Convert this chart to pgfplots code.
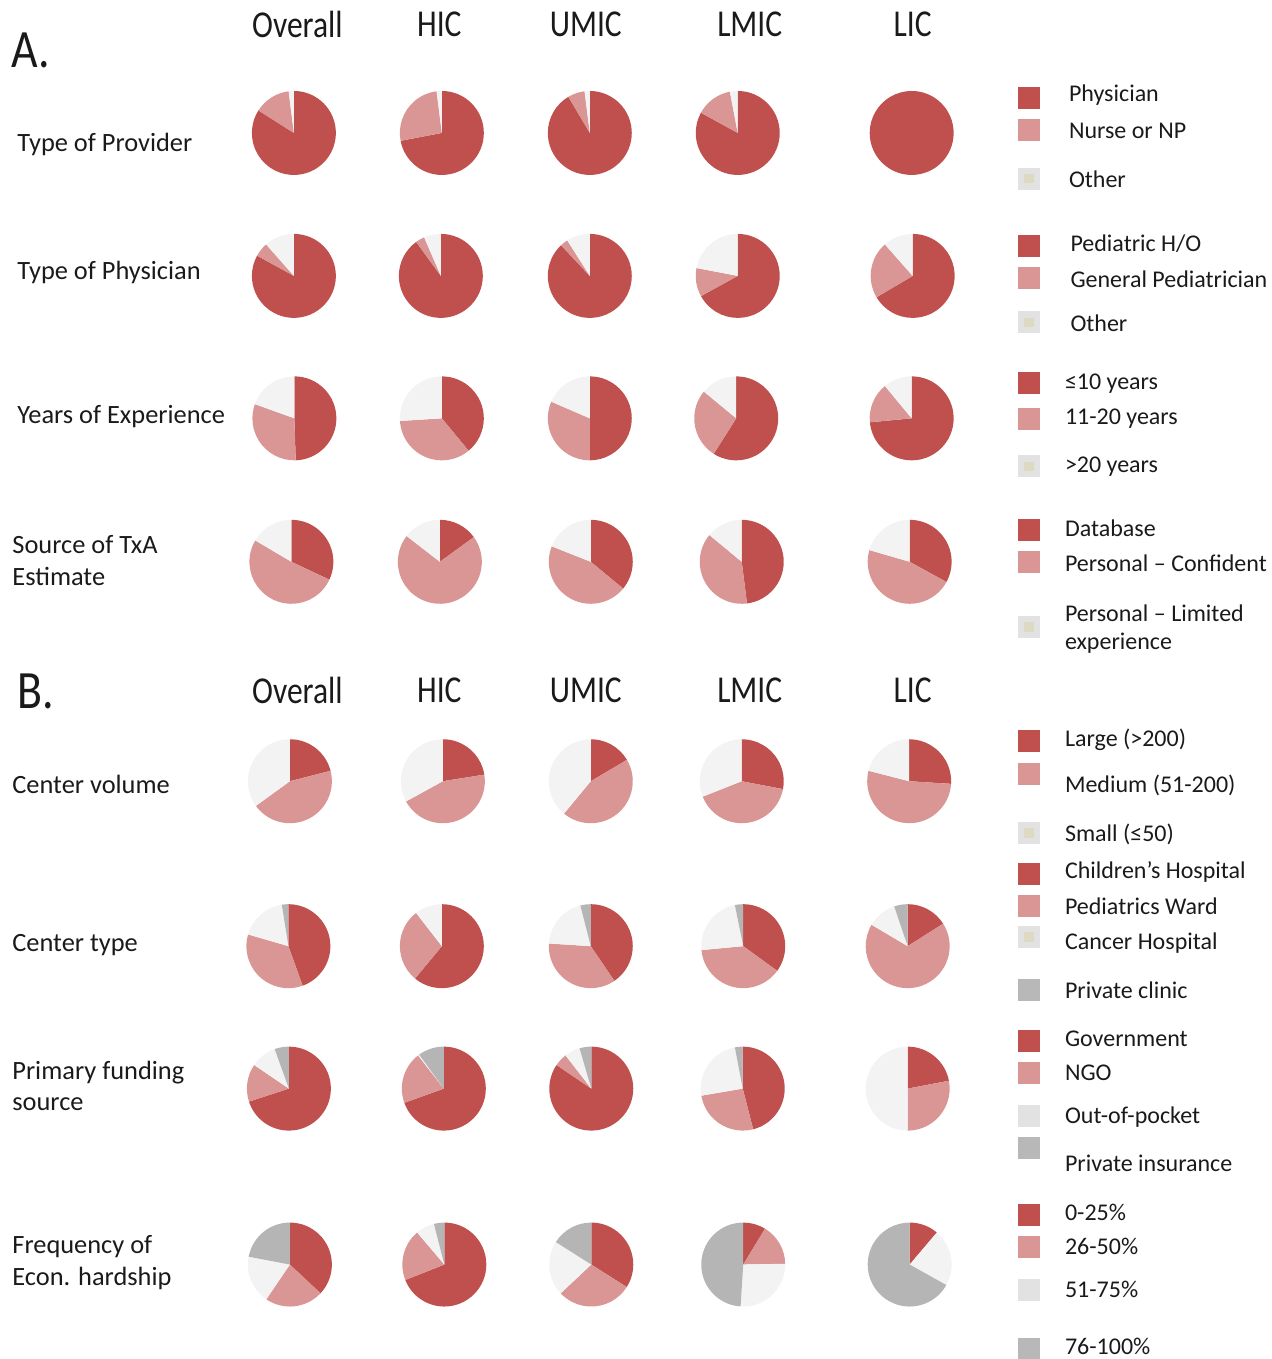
\documentclass[border=0pt]{standalone}
\usepackage{graphicx}
\usepackage{pgfplots}
\pgfplotsset{compat=1.18}
\usepackage{pgfplotstable}
\usepackage{fontspec}
\setmainfont{Carlito}
\definecolor{pc1}{HTML}{C0504D}
\definecolor{pc2}{HTML}{D99694}
\definecolor{pc3}{HTML}{F3F3F3}
\definecolor{pc4}{HTML}{B5B5B5}
\definecolor{lgOther}{HTML}{E2E2E2}
\definecolor{lgInner}{HTML}{DDD9C3}
\definecolor{lgGrey}{HTML}{B8B8B8}
\definecolor{txt}{HTML}{1A1A1A}
\pgfdeclareplotmark{nothing}{}

% columns: x y (pie centre, pixels), p0 p1 (cumulative percent, clockwise from 12 o'clock), c (category)
\pgfplotstableread{
x y p0 p1 c
294 133 0 84 1
294 133 84 98 2
294 133 98 100 3
442 133 0 72 1
442 133 72 98 2
442 133 98 100 3
590 133 0 91.5 1
590 133 91.5 98 2
590 133 98 100 3
738 133 0 83 1
738 133 83 97 2
738 133 97 100 3
912 133 0 100 1
}\rowProvider
\pgfplotstableread{
x y p0 p1 c
294 276 0 83 1
294 276 83 88.5 2
294 276 88.5 100 3
441 276 0 90 1
441 276 90 93.5 2
441 276 93.5 100 3
590 276 0 88 1
590 276 88 91 2
590 276 91 100 3
738 276 0 67 1
738 276 67 78 2
738 276 78 100 3
913 276 0 66.5 1
913 276 66.5 88.5 2
913 276 88.5 100 3
}\rowPhysician
\pgfplotstableread{
x y p0 p1 c
294.5 418.5 0 49.5 1
294.5 418.5 49.5 80.5 2
294.5 418.5 80.5 100 3
442 418.5 0 39 1
442 418.5 39 74 2
442 418.5 74 100 3
590 418.5 0 50 1
590 418.5 50 81.5 2
590 418.5 81.5 100 3
736.5 418.5 0 59 1
736.5 418.5 59 86 2
736.5 418.5 86 100 3
912 418.5 0 73.5 1
912 418.5 73.5 89 2
912 418.5 89 100 3
}\rowYears
\pgfplotstableread{
x y p0 p1 c
291.5 562 0 32 1
291.5 562 32 83.5 2
291.5 562 83.5 100 3
440 562 0 15 1
440 562 15 85.5 2
440 562 85.5 100 3
591 562 0 36 1
591 562 36 81 2
591 562 81 100 3
742 562 0 48 1
742 562 48 86 2
742 562 86 100 3
910 562 0 33 1
910 562 33 79.5 2
910 562 79.5 100 3
}\rowSource
\pgfplotstableread{
x y p0 p1 c
290 781.5 0 21 1
290 781.5 21 65 2
290 781.5 65 100 3
443 781.5 0 22.5 1
443 781.5 22.5 67 2
443 781.5 67 100 3
591 781.5 0 16.5 1
591 781.5 16.5 61 2
591 781.5 61 100 3
742 781.5 0 28 1
742 781.5 28 69 2
742 781.5 69 100 3
909.5 781.5 0 26 1
909.5 781.5 26 79 2
909.5 781.5 79 100 3
}\rowVolume
\pgfplotstableread{
x y p0 p1 c
288.5 946.5 0 44.5 1
288.5 946.5 44.5 79.5 2
288.5 946.5 79.5 97.5 3
288.5 946.5 97.5 100 4
442 946.5 0 61 1
442 946.5 61 89.5 2
442 946.5 89.5 100 3
591 946.5 0 40.5 1
591 946.5 40.5 76 2
591 946.5 76 96 3
591 946.5 96 100 4
743.5 946.5 0 35 1
743.5 946.5 35 73.5 2
743.5 946.5 73.5 96.8 3
743.5 946.5 96.8 100 4
908 946.5 0 16 1
908 946.5 16 83.5 2
908 946.5 83.5 94.8 3
908 946.5 94.8 100 4
}\rowType
\pgfplotstableread{
x y p0 p1 c
289 1089 0 70 1
289 1089 70 84.5 2
289 1089 84.5 94.5 3
289 1089 94.5 100 4
444 1089 0 69.5 1
444 1089 69.5 89.5 2
444 1089 89.5 90 3
444 1089 90 100 4
591.5 1089 0 84.5 1
591.5 1089 84.5 89.5 2
591.5 1089 89.5 95.5 3
591.5 1089 95.5 100 4
743 1089 0 46 1
743 1089 46 72.3 2
743 1089 72.3 97 3
743 1089 97 100 4
908 1089 0 22 1
908 1089 22 50 2
908 1089 50 100 3
}\rowFunding
\pgfplotstableread{
x y p0 p1 c
290 1265 0 37 1
290 1265 37 59.5 2
290 1265 59.5 78 3
290 1265 78 100 4
444.5 1265 0 69 1
444.5 1265 69 88.8 2
444.5 1265 88.8 96 3
444.5 1265 96 100 4
591.5 1265 0 34 1
591.5 1265 34 63 2
591.5 1265 63 84 3
591.5 1265 84 100 4
743.5 1265 0 8.7 1
743.5 1265 8.7 24.7 2
743.5 1265 24.7 51 3
743.5 1265 51 100 4
910 1265 0 11.2 1
910 1265 11.2 33.1 3
910 1265 33.1 100 4
}\rowHardship

\pgfplotsset{
  pie/.style={
    scatter, only marks, mark=nothing,
    visualization depends on={\thisrow{p0}\as\pa},
    visualization depends on={\thisrow{p1}\as\pb},
    visualization depends on={\thisrow{c}\as\cls},
    scatter/@pre marker code/.code={%
      \pgfmathsetmacro\aa{90-3.6*\pa}%
      \pgfmathsetmacro\ab{90-3.6*\pb}%
      \pgfmathtruncatemacro\ci{\cls}%
      \path[draw=none, fill=pc\ci] (0,0) -- (\aa:21pt) arc[start angle=\aa,end angle=\ab,radius=21pt] -- cycle;
    },
    scatter/@post marker code/.code={},
  },
  lgbox/.style={only marks, mark=square*, mark size=5.25pt, mark options={#1, draw=#1, rounded corners=0.8pt}},
  lgin/.style={only marks, mark=square*, mark size=2.2pt, mark options={lgInner, draw=lgInner}},
}

\newcommand{\hd}[1]{\scalebox{0.83}[1]{#1}}

\begin{document}
\begin{tikzpicture}
\begin{axis}[
  width=636pt, height=679.5pt, scale only axis,
  xmin=0, xmax=1272, ymin=0, ymax=1359, y dir=reverse,
  hide axis, clip=false,
]
\path (axis cs:0,0) rectangle (axis cs:1272,1359);

\addplot[pie] table[x=x,y=y] {\rowProvider};
\addplot[pie] table[x=x,y=y] {\rowPhysician};
\addplot[pie] table[x=x,y=y] {\rowYears};
\addplot[pie] table[x=x,y=y] {\rowSource};
\addplot[pie] table[x=x,y=y] {\rowVolume};
\addplot[pie] table[x=x,y=y] {\rowType};
\addplot[pie] table[x=x,y=y] {\rowFunding};
\addplot[pie] table[x=x,y=y] {\rowHardship};

% legend swatches
\addplot[lgbox=pc1] coordinates {(1029.5,98) (1029.5,245.5) (1029.5,383) (1029.5,530) (1029.5,741.5) (1029.5,874.5) (1029.5,1041.5) (1029.5,1215)};
\addplot[lgbox=pc2] coordinates {(1029.5,130) (1029.5,278) (1029.5,419) (1029.5,562.5) (1029.5,774) (1029.5,906.5) (1029.5,1073.5) (1029.5,1247)};
\addplot[lgbox=lgOther] coordinates {(1029.5,178.5) (1029.5,322.5) (1029.5,466.5) (1029.5,627) (1029.5,833) (1029.5,937.5) (1029.5,1116.5) (1029.5,1290)};
\addplot[lgin] coordinates {(1029.5,178.5) (1029.5,322.5) (1029.5,466.5) (1029.5,627) (1029.5,833) (1029.5,937.5)};
\addplot[lgbox=lgGrey] coordinates {(1029.5,990.5) (1029.5,1148) (1029.5,1349)};

% panel letters and column headers
\node[font=\fontsize{27pt}{30pt}\selectfont, text=txt] at (axis cs:31,50) {\scalebox{0.85}[1]{A.}};
\node[font=\fontsize{27pt}{30pt}\selectfont, text=txt] at (axis cs:36,692) {\scalebox{0.85}[1]{B.}};
\begin{scope}[every node/.style={text=txt, font=\fontsize{19pt}{22pt}\selectfont}]
\node at (axis cs:297.5,24) {\hd{Overall}};
\node at (axis cs:439.5,24) {\hd{HIC}};
\node at (axis cs:586,24) {\hd{UMIC}};
\node at (axis cs:750,24) {\hd{LMIC}};
\node at (axis cs:913,24) {\hd{LIC}};
\node at (axis cs:297.5,691) {\hd{Overall}};
\node at (axis cs:439.5,691) {\hd{HIC}};
\node at (axis cs:586,691) {\hd{UMIC}};
\node at (axis cs:750,691) {\hd{LMIC}};
\node at (axis cs:913,691) {\hd{LIC}};
\end{scope}

% row labels
\begin{scope}[every node/.style={anchor=west, inner sep=0pt, text=txt, font=\fontsize{13.2pt}{16pt}\selectfont}]
\node at (axis cs:17,145) {Type of Provider};
\node at (axis cs:17,273) {Type of Physician};
\node at (axis cs:17,417) {Years of Experience};
\node at (axis cs:12,545) {Source of TxA};
\node at (axis cs:12,577) {Estimate};
\node at (axis cs:12,785) {Center volume};
\node at (axis cs:12,945) {Center type};
\node at (axis cs:12,1073) {Primary funding};
\node at (axis cs:12,1105) {source};
\node at (axis cs:12,1247) {Frequency of};
\node at (axis cs:12,1279) {Econ. hardship};
\end{scope}

% legend texts
\begin{scope}[every node/.style={anchor=west, inner sep=0pt, text=txt, font=\fontsize{12pt}{14.5pt}\selectfont}]
\node at (axis cs:1069,95.5) {Physician};
\node at (axis cs:1069,131) {Nurse or NP};
\node at (axis cs:1069,179) {Other};
\node at (axis cs:1070.5,243.5) {Pediatric H/O};
\node at (axis cs:1070.5,279) {General Pediatrician};
\node at (axis cs:1070.5,323) {Other};
\node at (axis cs:1065,383.5) {≤10 years};
\node at (axis cs:1065,419) {11-20 years};
\node at (axis cs:1065,467) {>20 years};
\node at (axis cs:1065,528) {Database};
\node at (axis cs:1065,563) {Personal – Confident};
\node at (axis cs:1065,613.5) {Personal – Limited};
\node at (axis cs:1065,643) {experience};
\node at (axis cs:1065,740) {Large (>200)};
\node at (axis cs:1065,786) {Medium (51-200)};
\node at (axis cs:1065,834.5) {Small (≤50)};
\node at (axis cs:1065,872) {Children’s Hospital};
\node at (axis cs:1065,906.5) {Pediatrics Ward};
\node at (axis cs:1065,943) {Cancer Hospital};
\node at (axis cs:1065,991) {Private clinic};
\node at (axis cs:1065,1039.5) {Government};
\node at (axis cs:1065,1073.5) {NGO};
\node at (axis cs:1065,1117.5) {Out-of-pocket};
\node at (axis cs:1065,1164) {Private insurance};
\node at (axis cs:1065,1213) {0-25\%};
\node at (axis cs:1065,1247) {26-50\%};
\node at (axis cs:1065,1289.5) {51-75\%};
\node at (axis cs:1065,1346.5) {76-100\%};
\end{scope}
\end{axis}
\end{tikzpicture}
\end{document}
